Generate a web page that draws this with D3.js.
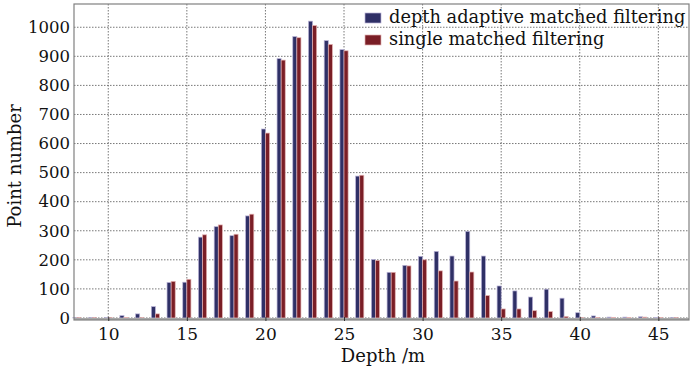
<!DOCTYPE html>
<html><head><meta charset="utf-8">
<script src="https://cdn.jsdelivr.net/npm/d3@7/dist/d3.min.js"></script>
<style>body{margin:0;background:#fff}svg{display:block}</style>
</head><body>
<svg id="c" width="691" height="369"></svg>
<script>
const depths = [8,9,10,11,12,13,14,15,16,17,18,19,20,21,22,23,24,25,26,27,28,29,30,31,32,33,34,35,36,37,38,39,40,41,42,43,44,45,46];
const adaptive = [1,1,1,8,14,39,122,123,278,314,283,351,650,892,968,1021,954,923,488,201,157,181,212,229,213,298,213,110,93,72,99,68,18,7,3,3,4,2,1];
const single   = [1,1,1,2,1,14,126,133,286,320,288,357,636,887,964,1006,941,919,491,198,157,179,200,162,127,158,77,31,31,25,22,5,1,2,2,2,3,2,1];
const seriesNames = ["depth adaptive matched filtering","single matched filtering"];
const xTicks = [10,15,20,25,30,35,40,45];
const yTicks = [0,100,200,300,400,500,600,700,800,900,1000];
const colors = ["#2f3066","#7a1e26"];
const edges = ["#b9b3d6","#e3b2b2"];

const svg = d3.select("#c");
const L=74, R=689, T=4, B=320;
const x = d3.scaleLinear().domain([7.82,46.95]).range([L,R]);
const y = d3.scaleLinear().domain([-7,1080]).range([B,T]);
const font = "'DejaVu Serif', serif";

// grid
const g = svg.append("g");
g.selectAll("line.gy").data(yTicks).enter().append("line")
  .attr("x1",L).attr("x2",R).attr("y1",d=>y(d)).attr("y2",d=>y(d))
  .attr("stroke","#555").attr("stroke-width",0.8).attr("stroke-dasharray","1.5,1.5");
g.selectAll("line.gx").data(xTicks).enter().append("line")
  .attr("y1",T).attr("y2",B).attr("x1",d=>x(d)).attr("x2",d=>x(d))
  .attr("stroke","#555").attr("stroke-width",0.8).attr("stroke-dasharray","1.5,1.5");

// bars
const bw = 0.26;
const series = [adaptive, single];
series.forEach((vals,si)=>{
  svg.append("g").selectAll("rect").data(depths).enter().append("rect")
    .attr("x",d=> si===0 ? x(d-bw) : x(d))
    .attr("width", x(bw)-x(0))
    .attr("y",(d,i)=>y(vals[i]))
    .attr("height",(d,i)=>y(0)-y(vals[i]))
    .attr("fill",colors[si]).attr("stroke",edges[si]).attr("stroke-width",0.7);
});

// baseline / frame
svg.append("line").attr("x1",L).attr("x2",R).attr("y1",B-1).attr("y2",B-1)
  .attr("stroke","#a8a8a8").attr("stroke-width",2);
svg.append("rect").attr("x",L).attr("y",T).attr("width",R-L).attr("height",B-T)
  .attr("fill","none").attr("stroke","#808080").attr("stroke-width",1.2);

// axes
const xAxis = d3.axisBottom(x).tickValues(xTicks).tickSize(4).tickPadding(6).tickFormat(d3.format("d"));
const xa = svg.append("g").attr("transform",`translate(0,${B-3})`).call(xAxis);
xa.select(".domain").remove();
xa.selectAll("line").attr("stroke","#333");
xa.selectAll("text").attr("font-family",font).attr("font-size",17).attr("fill","#111").attr("dy","0.76em");

const yAxis = d3.axisLeft(y).tickValues(yTicks).tickSize(0).tickPadding(4).tickFormat(d3.format("d"));
const ya = svg.append("g").attr("transform",`translate(${L},0)`).call(yAxis);
ya.select(".domain").remove();
ya.selectAll("text").attr("font-family",font).attr("font-size",16.5).attr("fill","#111");

svg.append("text").attr("x",383).attr("y",362).attr("text-anchor","middle")
  .attr("font-family",font).attr("font-size",18).attr("fill","#111").text("Depth /m");
svg.append("text").attr("transform","translate(21,166) rotate(-90)").attr("text-anchor","middle")
  .attr("font-family",font).attr("font-size",18).attr("fill","#111").text("Point number");

// legend
const lg = svg.append("g");
seriesNames.forEach((n,i)=>{
  lg.append("rect").attr("x",365).attr("y",13+i*22).attr("width",16).attr("height",10)
    .attr("fill",colors[i]).attr("stroke",edges[i]).attr("stroke-width",0.7);
  lg.append("text").attr("x",389).attr("y",23+i*22).attr("font-family",font).attr("font-size",17.8)
    .attr("fill","#111").text(n);
});
</script>
</body></html>
